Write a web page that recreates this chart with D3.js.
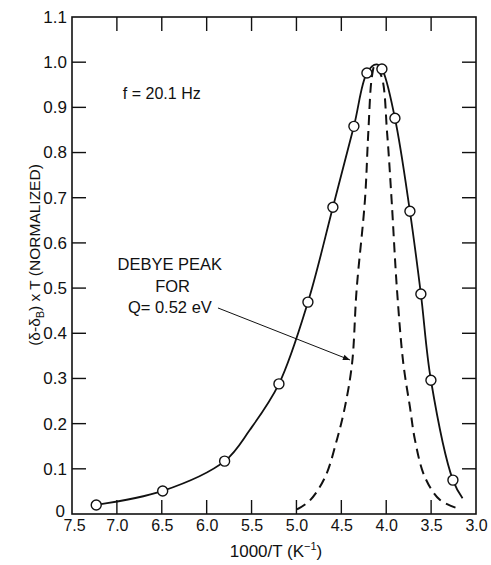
<!DOCTYPE html>
<html>
<head>
<meta charset="utf-8">
<script src="https://cdn.jsdelivr.net/npm/d3@7"></script>
<style>
  body { margin: 0; background: #fff; }
  text { font-family: "Liberation Sans", Arial, sans-serif; fill: #111; }
</style>
</head>
<body>
<div id="chart"></div>
<script>
// tick values
const xTicks = [7.5, 7.0, 6.5, 6.0, 5.5, 5.0, 4.5, 4.0, 3.5, 3.0];
const yTicks = [0, 0.1, 0.2, 0.3, 0.4, 0.5, 0.6, 0.7, 0.8, 0.9, 1.0, 1.1];

// measured points (circles), 1000/T vs normalized loss
const measX = [7.23, 6.49, 5.80, 5.195, 4.872, 4.594, 4.36, 4.215, 4.048, 3.903, 3.736, 3.614, 3.502, 3.257];
const measY = [0.02, 0.051, 0.117, 0.288, 0.469, 0.679, 0.858, 0.976, 0.985, 0.876, 0.670, 0.487, 0.296, 0.075];

// solid curve drawn through the data
const fitX = [7.23, 6.49, 5.80, 5.52, 5.195, 4.872, 4.594, 4.36, 4.215, 4.11, 4.048, 3.903, 3.736, 3.614, 3.502, 3.257, 3.15];
const fitY = [0.02, 0.051, 0.117, 0.186, 0.288, 0.469, 0.679, 0.858, 0.976, 0.995, 0.985, 0.876, 0.670, 0.487, 0.296, 0.075, 0.035];

// dashed Debye peak for Q = 0.52 eV
const debyeX = [4.995, 4.85, 4.68, 4.55, 4.46, 4.38, 4.33, 4.237, 4.20, 4.16, 4.126, 4.05, 3.99, 3.94, 3.88, 3.81, 3.736, 3.68, 3.57, 3.40, 3.18];
const debyeY = [0.01, 0.03, 0.082, 0.164, 0.237, 0.334, 0.496, 0.695, 0.843, 0.967, 0.993, 0.967, 0.843, 0.695, 0.496, 0.334, 0.237, 0.164, 0.082, 0.031, 0.011];

const width = 491, height = 565;
const margin = {top: 17, right: 15, bottom: 51, left: 72};
const w = width - margin.left - margin.right;
const h = height - margin.top - margin.bottom;

const svg = d3.select('#chart').append('svg')
    .attr('width', width)
    .attr('height', height);

svg.append('defs').append('marker')
    .attr('id', 'arrow')
    .attr('viewBox', '0 0 10 10')
    .attr('refX', 10).attr('refY', 5)
    .attr('markerWidth', 9).attr('markerHeight', 7)
    .attr('markerUnits', 'userSpaceOnUse')
    .attr('orient', 'auto')
  .append('path')
    .attr('d', 'M0,1 L10,5 L0,9 Z')
    .attr('fill', '#111');

const g = svg.append('g').attr('transform', `translate(${margin.left},${margin.top})`);

const x = d3.scaleLinear().domain([7.5, 3.0]).range([0, w]);
const y = d3.scaleLinear().domain([0, 1.1]).range([h, 0]);

const inner = v => v > 0.001 && v < 1.099;
const innerX = v => v < 7.499 && v > 3.001;
const tickLen = 14;

// frame
g.append('rect')
    .attr('width', w).attr('height', h)
    .attr('fill', 'none').attr('stroke', '#111').attr('stroke-width', 1.6);

// axes (ticks point inward)
const xAxis = g.append('g').attr('transform', `translate(0,${h})`)
    .call(d3.axisBottom(x).tickValues(xTicks).tickSize(0).tickPadding(5).tickFormat(d3.format('.1f')));
xAxis.select('.domain').remove();
xAxis.selectAll('text').attr('font-size', 16).attr('dy', '0.75em');
xAxis.selectAll('.tick').filter(d => d === 7.5).select('text').attr('dx', 2);

const yAxis = g.append('g')
    .call(d3.axisLeft(y).tickValues(yTicks).tickSize(0).tickPadding(5)
      .tickFormat(d => d === 0 ? '0' : d3.format('.1f')(d)));
yAxis.select('.domain').remove();
yAxis.selectAll('text').attr('font-size', 17);
yAxis.selectAll('.tick').filter(d => d === 0).select('text').attr('dx', -2).attr('dy', '0.15em');

// inward tick marks on all four sides
const tickG = g.append('g').attr('stroke', '#111').attr('stroke-width', 1.4);
xTicks.filter(innerX).forEach(v => {
  tickG.append('line').attr('x1', x(v)).attr('x2', x(v)).attr('y1', h).attr('y2', h - tickLen);
  tickG.append('line').attr('x1', x(v)).attr('x2', x(v)).attr('y1', 0).attr('y2', tickLen);
});
yTicks.filter(inner).forEach(v => {
  tickG.append('line').attr('x1', 0).attr('x2', tickLen).attr('y1', y(v)).attr('y2', y(v));
  tickG.append('line').attr('x1', w).attr('x2', w - tickLen).attr('y1', y(v)).attr('y2', y(v));
});

// solid fitted curve
const fit = fitX.map((v, i) => [v, fitY[i]]);
const line = d3.line().x(d => x(d[0])).y(d => y(d[1])).curve(d3.curveCatmullRom.alpha(0.5));
g.append('path')
    .attr('d', line(fit))
    .attr('fill', 'none').attr('stroke', '#111').attr('stroke-width', 1.8);

// dashed Debye peak
const debye = debyeX.map((v, i) => [v, debyeY[i]]);
g.append('path')
    .attr('d', line(debye))
    .attr('fill', 'none').attr('stroke', '#111').attr('stroke-width', 2)
    .attr('stroke-dasharray', '10,6');

// data circles
g.selectAll('circle.pt')
  .data(measX.map((v, i) => [v, measY[i]]))
  .enter().append('circle')
    .attr('class', 'pt')
    .attr('cx', d => x(d[0]))
    .attr('cy', d => y(d[1]))
    .attr('r', 5)
    .attr('fill', '#fff').attr('stroke', '#111').attr('stroke-width', 1.4);

// annotations
g.append('text').attr('x', x(6.5)).attr('y', y(0.918))
    .attr('text-anchor', 'middle').attr('font-size', 16).text('f = 20.1 Hz');

const ann = g.append('g').attr('text-anchor', 'middle').attr('font-size', 16.5);
ann.append('text').attr('x', x(6.41)).attr('y', y(0.54)).text('DEBYE PEAK');
ann.append('text').attr('x', x(6.38)).attr('y', y(0.491)).text('FOR');
ann.append('text').attr('x', x(6.41)).attr('y', y(0.445)).text('Q= 0.52 eV');

g.append('line')
    .attr('x1', x(5.874)).attr('y1', y(0.456))
    .attr('x2', x(4.404)).attr('y2', y(0.341))
    .attr('stroke', '#111').attr('stroke-width', 1)
    .attr('marker-end', 'url(#arrow)');

// axis titles
const xt = svg.append('text')
    .attr('x', margin.left + w / 2 + 2).attr('y', 557)
    .attr('text-anchor', 'middle').attr('font-size', 17);
xt.append('tspan').text('1000/T  (K');
xt.append('tspan').attr('font-size', 11).attr('dy', -7).text('−1');
xt.append('tspan').attr('dy', 7).text(')');

const yt = svg.append('text')
    .attr('transform', 'translate(40,255) rotate(-90)')
    .attr('text-anchor', 'middle').attr('font-size', 15.5);
yt.append('tspan').text('(δ-δ');
yt.append('tspan').attr('font-size', 11).attr('dy', 4).text('B');
yt.append('tspan').attr('dy', -4).text(') x T (NORMALIZED)');
</script>
</body>
</html>
